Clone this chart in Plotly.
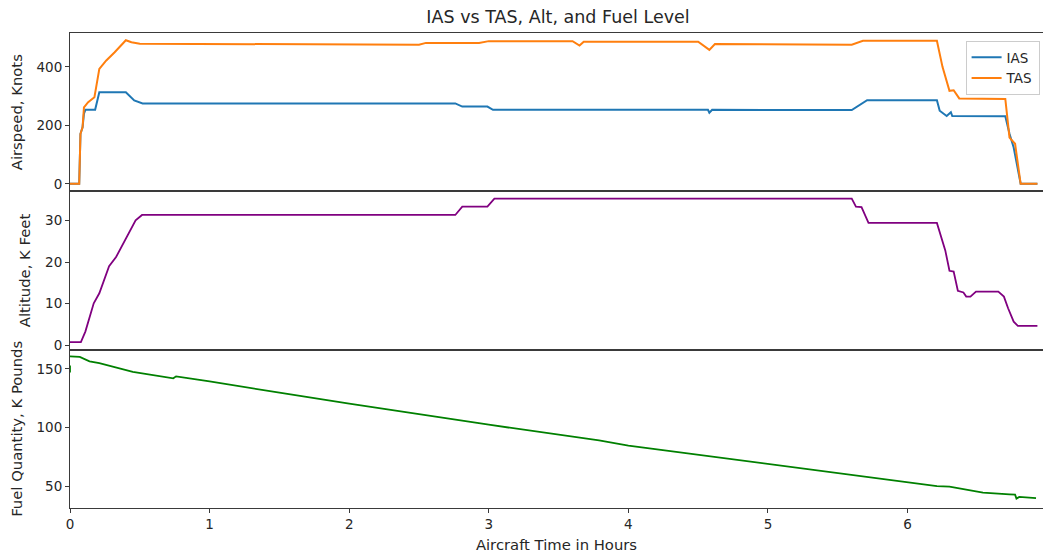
import plotly.graph_objects as go
from plotly.subplots import make_subplots

# ---- Data (hours, values) ----
ias_t = [0.0, 0.066, 0.075, 0.09, 0.10, 0.11, 0.18, 0.21, 0.40, 0.46, 0.52, 1.5, 2.76, 2.81,
         2.99, 3.03, 4.57, 4.58, 4.60, 5.60, 5.66, 5.71, 6.21, 6.23, 6.28, 6.31, 6.32, 6.70,
         6.73, 6.76, 6.81, 6.93]
ias_v = [0, 0, 171, 193, 240, 253, 253, 313, 313, 285, 275, 275, 275, 264,
         264, 253, 253, 243, 253, 252, 270, 286, 286, 250, 232, 245, 232, 231,
         171, 124, 0, 0]

tas_t = [0.0, 0.066, 0.075, 0.09, 0.10, 0.13, 0.175, 0.21, 0.26, 0.32, 0.40, 0.44, 0.50,
         1.5, 2.50, 2.55, 2.93, 3.00, 3.60, 3.65, 3.68, 4.50, 4.58, 4.62, 5.60, 5.68,
         6.21, 6.25, 6.30, 6.33, 6.37, 6.70, 6.73, 6.77, 6.81, 6.93]
tas_v = [0, 0, 171, 193, 261, 279, 296, 393, 422, 450, 491, 484, 479,
         478, 476, 482, 482, 488, 488, 473, 486, 486, 458, 478, 476, 489,
         489, 400, 318, 320, 292, 290, 158, 137, 0, 0]

alt_t = [0.0, 0.078, 0.11, 0.17, 0.21, 0.28, 0.33, 0.47, 0.516, 2.76, 2.81, 2.99, 3.04,
         5.60, 5.63, 5.67, 5.72, 6.21, 6.27, 6.30, 6.33, 6.36, 6.40, 6.42, 6.45, 6.49,
         6.65, 6.69, 6.72, 6.76, 6.79, 6.93]
alt_v = [0.8, 0.8, 3.3, 10.1, 12.5, 19.0, 21.2, 30.0, 31.3, 31.3, 33.3, 33.3, 35.2,
         35.2, 33.3, 33.2, 29.4, 29.4, 22.8, 17.9, 17.7, 13.1, 12.7, 11.7, 11.7, 12.9,
         12.9, 11.7, 8.9, 5.7, 4.7, 4.7]

# first two readings form the small blip at t=0, then a gap (None) before the main record
fuel_t = [0.0, 0.0, None, 0.0, 0.07, 0.14, 0.21, 0.45, 0.71, 0.74, 0.76, 1.0, 1.5, 2.0,
          3.0, 3.79, 4.0, 5.0, 6.0, 6.21, 6.30, 6.54, 6.73, 6.77, 6.78, 6.80, 6.92]
fuel_v = [153, 147, None, 160.7, 160.2, 156.5, 155, 147.4, 142.3, 142, 143.7, 139.4, 129.8, 120.4,
          102.5, 89.2, 84.7, 69.3, 53.7, 50.3, 49.8, 44.6, 43.2, 43.0, 39.6, 41.0, 40.0]

x_ticks = [0, 1, 2, 3, 4, 5, 6]
spd_ticks = [0, 200, 400]
alt_ticks = [0, 10, 20, 30]
fuel_ticks = [50, 100, 150]

FONT = "DejaVu Sans"
TXT = "#262626"
SPINE = "#3a3a3a"
TICK_SIZE = 13.5
LABEL_SIZE = 14.8

fig = make_subplots(rows=3, cols=1, shared_xaxes=True, vertical_spacing=0)

fig.add_trace(go.Scatter(x=ias_t, y=ias_v, mode="lines", name="IAS",
                         line=dict(color="#1f77b4", width=2)), row=1, col=1)
fig.add_trace(go.Scatter(x=tas_t, y=tas_v, mode="lines", name="TAS",
                         line=dict(color="#ff7f0e", width=2)), row=1, col=1)
fig.add_trace(go.Scatter(x=alt_t, y=alt_v, mode="lines", name="Altitude", showlegend=False,
                         line=dict(color="purple", width=1.8)), row=2, col=1)
fig.add_trace(go.Scatter(x=fuel_t, y=fuel_v, mode="lines", name="Fuel", showlegend=False,
                         line=dict(color="green", width=1.8)), row=3, col=1)

xrange = [0, 6.97]
for r in (1, 2, 3):
    fig.update_xaxes(range=xrange, showgrid=False, zeroline=False, showline=True,
                     linecolor=SPINE, linewidth=1, mirror=True,
                     tickvals=x_ticks, ticks="outside" if r == 3 else "",
                     ticklen=4, tickcolor=SPINE, showticklabels=(r == 3),
                     tickfont=dict(family=FONT, size=TICK_SIZE, color=TXT), row=r, col=1)
fig.update_xaxes(title=dict(text="Aircraft Time in Hours", standoff=8,
                            font=dict(family=FONT, size=LABEL_SIZE, color=TXT)), row=3, col=1)

yspecs = [
    (1, [-25.8, 515.8], spd_ticks, "Airspeed, Knots"),
    (2, [-1.03, 36.97], alt_ticks, "Altitude, K Feet"),
    (3, [31.6, 166.4], fuel_ticks, "Fuel Quantity, K Pounds"),
]
for r, rng, tv, title in yspecs:
    fig.update_yaxes(range=rng, tickvals=tv, showgrid=False, zeroline=False, showline=True,
                     linecolor=SPINE, linewidth=1, mirror=False, ticks="outside", ticklen=4,
                     tickcolor=SPINE, tickfont=dict(family=FONT, size=TICK_SIZE, color=TXT),
                     title=dict(text=title, standoff=10,
                                font=dict(family=FONT, size=LABEL_SIZE, color=TXT)),
                     row=r, col=1)

fig.update_layout(
    width=1043, height=554,
    margin=dict(l=70, r=0, t=33, b=46),
    paper_bgcolor="white", plot_bgcolor="white",
    title=dict(text="IAS vs TAS, Alt, and Fuel Level", x=0.535, xanchor="center",
               y=1 - 17 / 554, yanchor="middle", yref="container",
               font=dict(family=FONT, size=17.5, color=TXT)),
    legend=dict(x=0.9965, y=0.983, xanchor="right", yanchor="top",
                bgcolor="rgba(255,255,255,0.8)", bordercolor="#cccccc", borderwidth=1,
                tracegroupgap=0, itemwidth=30,
                font=dict(family=FONT, size=13.5, color=TXT)),
    showlegend=True,
)

fig.write_html("out.html")
